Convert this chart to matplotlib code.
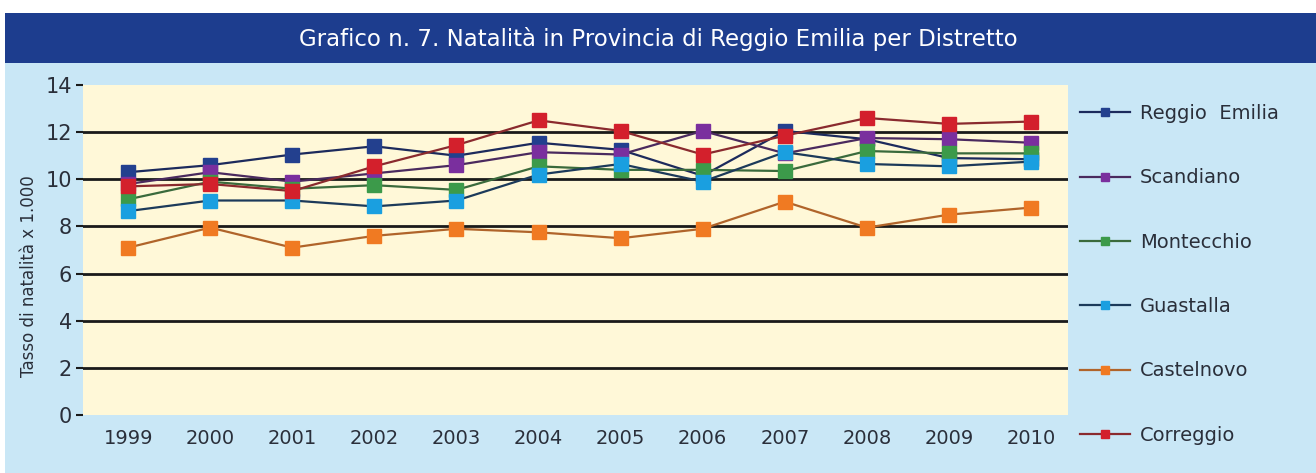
import matplotlib
matplotlib.use("Agg")
import matplotlib.pyplot as plt
from matplotlib.patches import Rectangle

years = ["1999", "2000", "2001", "2002", "2003", "2004",
         "2005", "2006", "2007", "2008", "2009", "2010"]

reggio_emilia = [10.3, 10.6, 11.05, 11.4, 11.0, 11.55, 11.25, 10.15, 12.05, 11.7, 10.9, 10.85]
scandiano = [9.8, 10.3, 9.9, 10.25, 10.6, 11.15, 11.05, 12.05, 11.1, 11.75, 11.7, 11.55]
montecchio = [9.15, 9.9, 9.6, 9.75, 9.55, 10.55, 10.4, 10.4, 10.35, 11.2, 11.1, 11.1]
guastalla = [8.65, 9.1, 9.1, 8.85, 9.1, 10.2, 10.65, 9.9, 11.15, 10.65, 10.55, 10.75]
castelnovo = [7.1, 7.95, 7.1, 7.6, 7.9, 7.75, 7.5, 7.9, 9.05, 7.95, 8.5, 8.8]
correggio = [9.7, 9.8, 9.5, 10.55, 11.45, 12.5, 12.05, 11.05, 11.85, 12.6, 12.35, 12.45]

series = [
    ("Reggio  Emilia", reggio_emilia, "#23408e", "#1c2a5c"),
    ("Scandiano", scandiano, "#7a2f9e", "#4a2a5e"),
    ("Montecchio", montecchio, "#3c9a4a", "#3a6a3c"),
    ("Guastalla", guastalla, "#1a9fe0", "#1c3a5a"),
    ("Castelnovo", castelnovo, "#f07a22", "#b0642a"),
    ("Correggio", correggio, "#d3202c", "#8a2a2e"),
]

fig = plt.figure(figsize=(13.16, 4.73), dpi=100)
fig.patch.set_facecolor("white")

# light blue panel and dark blue title bar
fig.add_artist(Rectangle((5 / 1316, 0), 1 - 5 / 1316, 1 - 63 / 473,
                         transform=fig.transFigure, facecolor="#c9e7f6",
                         edgecolor="none", zorder=-5))
fig.add_artist(Rectangle((5 / 1316, 1 - 63 / 473), 1 - 5 / 1316, 50 / 473,
                         transform=fig.transFigure, facecolor="#1d3d8e",
                         edgecolor="none", zorder=-5))
fig.text(658 / 1316, 1 - 39 / 473,
         "Grafico n. 7. Natalità in Provincia di Reggio Emilia per Distretto",
         color="white", fontsize=16.5, ha="center", va="center")

ax = fig.add_axes([83 / 1316, 1 - 415 / 473, (1068 - 83) / 1316, (415 - 85) / 473])
ax.set_zorder(5)
ax.set_facecolor("#fff8d8")

x = list(range(len(years)))
for label, vals, mcol, lcol in series:
    ax.plot(x, vals, color=lcol, linewidth=1.6, marker="s", markersize=10,
            markerfacecolor=mcol, markeredgecolor=mcol, label=label, zorder=3)

ax.set_ylim(0, 14)
ax.set_xlim(-0.55, len(years) - 0.55)
ax.set_yticks(range(0, 15, 2))
ax.set_xticks(x)
ax.set_xticklabels(years)
for yv in range(2, 13, 2):
    ax.axhline(yv, color="#1a1a1a", linewidth=2, zorder=2)

for s in ax.spines.values():
    s.set_visible(False)
ax.tick_params(axis="y", length=5, width=1.5, color="#1a1a1a", labelsize=15,
               labelcolor="#2a2f3a", pad=3)
ax.tick_params(axis="x", length=0, labelsize=14, labelcolor="#2a2f3a", pad=10)
ax.set_ylabel("Tasso di natalità x 1.000", fontsize=12, color="#2a2f3a")
ax.yaxis.set_label_coords(-0.046, 0.42)

leg = ax.legend(loc="upper left", bbox_to_anchor=(0.994, 0.995), frameon=False,
                fontsize=14, labelspacing=2.33, handlelength=2.6,
                markerscale=0.6, handletextpad=0.5)
for t in leg.get_texts():
    t.set_color("#2a2f3a")

fig.savefig("out.png", dpi=100, facecolor=fig.get_facecolor())
